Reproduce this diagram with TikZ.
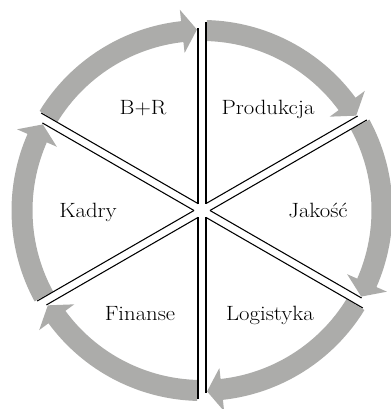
\documentclass[tikz,border=0pt]{standalone}
\begin{document}
\begin{tikzpicture}[x=0.75pt,y=0.75pt,
  ringarrow/.style={fill=ringgray},
  spokeline/.style={line width=0.8pt,black},
  label/.style={font=\fontsize{15.5}{18}\selectfont,anchor=base,inner sep=0pt,xscale=1.1}]
  \definecolor{ringgray}{RGB}{172,172,170}
  % canvas
  \useasboundingbox (-202,-198.5) rectangle (188,210.5);
  % clockwise arrows, one per sector: shaft from A to the next spoke B=A-60
  \foreach \A in {150,90,30,-30,-90,-150}{
    \pgfmathsetmacro{\S}{\A-1.5}
    \pgfmathsetmacro{\H}{\A-60+6.3}
    \pgfmathsetmacro{\T}{\A-60+1.6}
    \fill[ringarrow] (\S:169.5) arc[start angle=\S, end angle=\H, radius=169.5]
      -- (\H:158.5) -- (\T:181) -- (\H:202) -- (\H:190.5)
      arc[start angle=\H, end angle=\S, radius=190.5] -- cycle;
  }
  % spokes: each drawn as two parallel lines bordering a white gap
  \foreach \p in {90,30,-30,-90,-150,150}{
    \begin{scope}[rotate=\p]
      \draw[spokeline] (6.93,4) -- (182,4);
      \draw[spokeline] (6.93,-4) -- (188,-4);
    \end{scope}
  }
  % sector labels
  \node[label] (br)   at (-59,95.5)   {B+R};
  \node[label] (prod) at (66,95.5)    {Produkcja};
  \node[label] (kad)  at (-114,-7.5)  {Kadry};
  \node[label] (jak)  at (116,-7.5)   {Jakość};
  \node[label] (fin)  at (-62,-110.5) {Finanse};
  \node[label] (log)  at (68,-110.5)  {Logistyka};
\end{tikzpicture}
\end{document}
